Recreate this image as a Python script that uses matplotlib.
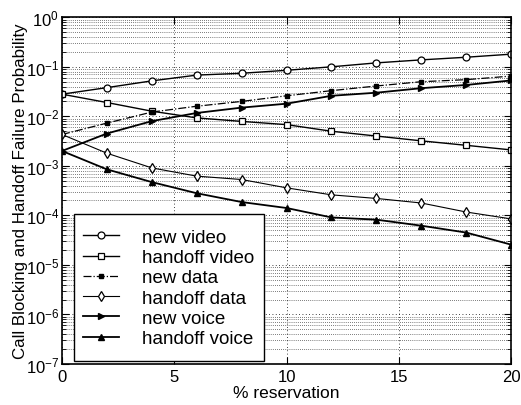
import matplotlib
matplotlib.use("Agg")
import matplotlib.pyplot as plt
from matplotlib.ticker import LogLocator, NullFormatter, FixedLocator
from matplotlib.patches import Rectangle

plt.rcParams['font.family'] = ['Liberation Sans', 'DejaVu Sans']
plt.rcParams['mathtext.fontset'] = 'custom'
plt.rcParams['mathtext.rm'] = 'Liberation Sans'
plt.rcParams['mathtext.default'] = 'regular'
plt.rcParams['axes.unicode_minus'] = False

reservation = [0, 2, 4, 6, 8, 10, 12, 14, 16, 18, 20]
new_video = [0.028, 0.038, 0.052, 0.068, 0.074, 0.085, 0.10, 0.12, 0.138, 0.156, 0.18]
handoff_video = [0.028, 0.019, 0.0127, 0.0093, 0.0079, 0.0068, 0.005, 0.0040, 0.0032, 0.0026, 0.0021]
new_data = [0.0043, 0.0073, 0.0122, 0.016, 0.020, 0.026, 0.033, 0.041, 0.050, 0.055, 0.065]
handoff_data = [0.0043, 0.0018, 0.00091, 0.00062, 0.00053, 0.00036, 0.00026, 0.00022, 0.000178, 0.000117, 0.000085]
new_voice = [0.002, 0.0045, 0.008, 0.0117, 0.015, 0.018, 0.026, 0.030, 0.037, 0.043, 0.053]
handoff_voice = [0.002, 0.00085, 0.00047, 0.00028, 0.000186, 0.000141, 0.000091, 0.000082, 0.000062, 0.000045, 0.0000257]
labels = ["new video", "handoff video", "new data", "handoff data", "new voice", "handoff voice"]

fig = plt.figure(figsize=(5.21, 4.06), dpi=100)
ax = fig.add_axes([0.119, 0.101, 0.862, 0.854])

k = 'black'
ax.plot(reservation, new_video, '-', color=k, lw=1.0, marker='o', ms=5, mfc='white', mec=k, mew=0.9, label=labels[0])
ax.plot(reservation, handoff_video, '-', color=k, lw=1.0, marker='s', ms=4.5, mfc='white', mec=k, mew=0.9, label=labels[1])
ax.plot(reservation, new_data, '-.', color=k, lw=0.9, marker='s', ms=3, mfc=k, mec=k, label=labels[2])
ax.plot(reservation, handoff_data, '-', color=k, lw=0.8, marker='d', ms=5, mfc='white', mec=k, mew=0.9, label=labels[3])
ax.plot(reservation, new_voice, '-', color=k, lw=1.3, marker='>', ms=5, mfc=k, mec=k, label=labels[4])
ax.plot(reservation, handoff_voice, '-', color=k, lw=1.3, marker='^', ms=5, mfc=k, mec=k, label=labels[5])

ax.set_yscale('log')
ax.set_xlim(0, 20)
ax.set_ylim(1e-7, 1)
ax.xaxis.set_major_locator(FixedLocator([0, 5, 10, 15, 20]))
ax.yaxis.set_major_locator(LogLocator(base=10, numticks=20))
ax.yaxis.set_minor_locator(LogLocator(base=10, subs=range(2, 10), numticks=20))
ax.yaxis.set_minor_formatter(NullFormatter())

ax.grid(True, which='major', linestyle=(0, (1, 3)), color=k, lw=0.6)
ax.grid(True, which='minor', axis='y', linestyle=(0, (1, 2)), color=k, lw=0.5)
ax.tick_params(which='both', direction='in', top=True, right=True, labelsize=12)
ax.tick_params(axis='y', which='major', pad=2)
ax.tick_params(which='major', length=5)
ax.tick_params(which='minor', length=3)
for s in ax.spines.values():
    s.set_linewidth(1.2)

ax.set_xlabel('% reservation', fontsize=12.5, labelpad=1)
ax.set_ylabel('Call Blocking and Handoff Failure Probability', fontsize=12.2, labelpad=-2)

# legend frame (MATLAB-style box)
frame = Rectangle((0.0267, 0.0087), 0.423, 0.424, transform=ax.transAxes,
                  facecolor='white', edgecolor=k, lw=1.0, zorder=4)
ax.add_patch(frame)
leg = ax.legend(loc='lower left', bbox_to_anchor=(0.0468, 0.048), fontsize=13.5, frameon=False,
                labelspacing=0.17, handlelength=1.92, handletextpad=1.2,
                borderpad=0, borderaxespad=0)
leg.set_zorder(5)

fig.savefig('out.png', dpi=100)
